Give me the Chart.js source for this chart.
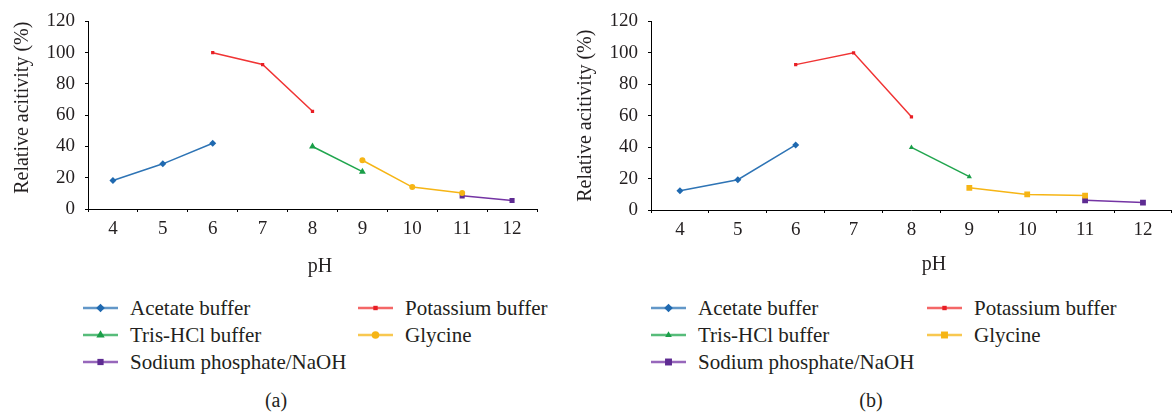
<!DOCTYPE html>
<html>
<head>
<meta charset="utf-8">
<script src="https://cdn.jsdelivr.net/npm/chart.js@4.4.1/dist/chart.umd.min.js"></script>
<style>
html,body{margin:0;padding:0;background:#fff;}
body{width:1174px;height:415px;overflow:hidden;position:relative;font-family:"Liberation Serif","Times New Roman",serif;color:#231f20;}
canvas{position:absolute;top:0;}
#ca{left:0;}
#cb{left:570px;}
.item{position:absolute;display:flex;align-items:center;white-space:nowrap;height:24px;line-height:24px;font-size:21px;}
.item svg{margin-right:12px;flex:none;}
.cap{position:absolute;font-size:20px;top:389px;transform:translateX(-50%);}
</style>
</head>
<body>
<canvas id="ca" width="570" height="285"></canvas>
<canvas id="cb" width="606" height="285"></canvas>
<div id="legA"></div>
<div id="legB"></div>
<div class="cap" style="left:276px">(a)</div>
<div class="cap" style="left:871px">(b)</div>
<script>
// ---- data ----
const phLabels = ['4','5','6','7','8','9','10','11','12'];
const seriesNames = ['Acetate buffer','Potassium buffer','Tris-HCl buffer','Glycine','Sodium phosphate/NaOH'];

// panel (a)
const acetateA   = [18.2, 28.9, 42.1, null, null, null, null, null, null];
const potassiumA = [null, null, 100, 92.4, 62.5, null, null, null, null];
const trisA      = [null, null, null, null, 40.0, 23.9, null, null, null];
const glycineA   = [null, null, null, null, null, 31.2, 14.0, 10.3, null];
const sodiumA    = [null, null, null, null, null, null, null, 8.4, 5.4];

// panel (b)
const acetateB   = [12.2, 19.3, 41.4, null, null, null, null, null, null];
const potassiumB = [null, null, 92.5, 100, 59.3, null, null, null, null];
const trisB      = [null, null, null, null, 39.8, 21.2, null, null, null];
const glycineB   = [null, null, null, null, null, 14.1, 9.9, 9.2, null];
const sodiumB    = [null, null, null, null, null, null, null, 6.2, 4.7];

const yTicks = [0, 20, 40, 60, 80, 100, 120];

// ---- styles ----
const lineColors = ['#2e74b5', '#f03434', '#1fa54d', '#f6b515', '#7434a4'];
const markColors = ['#1f69b0', '#e81e24', '#1a9e48', '#f6b515', '#5e2b92'];
const stylesA = [['rectRot',3.5],['rect',2.3],['triangle',4],['circle',3],['rect',3.6]];
const stylesB = [['rectRot',3.5],['rect',2.3],['triangle',3],['rect',4.1],['rect',4.1]];

const FONT = 'Liberation Serif';
const TXT = '#231f20';

function makeChart(id, dataArrs, styles, opt) {
  const datasets = dataArrs.map((d, i) => ({
    label: seriesNames[i],
    data: d,
    borderColor: lineColors[i],
    backgroundColor: markColors[i],
    borderWidth: 1.5,
    pointStyle: styles[i][0],
    pointRadius: styles[i][1],
    pointBorderWidth: 0,
    pointBackgroundColor: markColors[i],
    pointBorderColor: markColors[i],
    tension: 0,
    spanGaps: false
  }));
  return new Chart(document.getElementById(id), {
    type: 'line',
    data: { labels: phLabels, datasets },
    options: {
      responsive: false,
      animation: false,
      devicePixelRatio: 1,
      layout: { padding: opt.padding },
      plugins: { legend: { display: false }, tooltip: { enabled: false } },
      scales: {
        x: {
          type: 'category',
          offset: true,
          grid: { display: true, drawOnChartArea: false, drawTicks: true, tickLength: 3, offset: true, color: '#000', lineWidth: 1 },
          border: { display: true, color: '#000', width: 1 },
          ticks: { color: TXT, font: { family: FONT, size: 19 }, padding: 6, maxRotation: 0, autoSkip: false },
          title: { display: true, text: opt.xTitle, color: TXT, font: { family: FONT, size: 20 }, padding: { top: 0, bottom: opt.xTitlePad } },
          afterFit(s) { s.height = opt.xHeight; }
        },
        y: {
          min: 0, max: 120,
          afterBuildTicks(s) { s.ticks = yTicks.map(v => ({ value: v })); },
          grid: { display: true, drawOnChartArea: false, drawTicks: true, tickLength: 3, color: '#000', lineWidth: 1 },
          border: { display: true, color: '#000', width: 1 },
          ticks: { color: TXT, font: { family: FONT, size: 19 }, padding: 10 },
          title: { display: true, text: opt.yTitle, color: TXT, font: { family: FONT, size: 20 }, padding: { top: 4, bottom: 0 } },
          afterFit(s) { s.width = 81; }
        }
      }
    }
  });
}

makeChart('ca', [acetateA, potassiumA, trisA, glycineA, sodiumA], stylesA, {
  padding: { left: 7, top: 18, right: 33, bottom: 0 },
  xHeight: 76, xTitle: '   pH', xTitlePad: 6, yTitle: '   Relative acitivity (%)'
});
makeChart('cb', [acetateB, potassiumB, trisB, glycineB, sodiumB], stylesB, {
  padding: { left: 0, top: 20, right: 0, bottom: 0 },
  xHeight: 75, xTitle: '         pH', xTitlePad: 8, yTitle: 'Relative acitivity (%)'
});

// ---- HTML legends ----
function markerSvg(style, r, color) {
  const cx = 17.5, cy = 6;
  r = r + 0.8;
  if (style === 'rectRot') return `<polygon points="${cx},${cy-r} ${cx+r},${cy} ${cx},${cy+r} ${cx-r},${cy}" fill="${color}"/>`;
  if (style === 'triangle') return `<polygon points="${cx},${cy-r} ${cx+r*0.87},${cy+r*0.5} ${cx-r*0.87},${cy+r*0.5}" fill="${color}"/>`;
  if (style === 'circle') return `<circle cx="${cx}" cy="${cy}" r="${r}" fill="${color}"/>`;
  const s = r * Math.SQRT1_2;
  return `<rect x="${cx-s}" y="${cy-s}" width="${2*s}" height="${2*s}" fill="${color}"/>`;
}
function buildLegend(elId, styles, x1, x2) {
  const rows = [307.5, 334.5, 361.5];
  const pos = [[x1,0],[x2,0],[x1,1],[x2,1],[x1,2]];
  const el = document.getElementById(elId);
  seriesNames.forEach((name, i) => {
    const d = document.createElement('div');
    d.className = 'item';
    d.style.left = pos[i][0] + 'px';
    d.style.top = (rows[pos[i][1]] - 12) + 'px';
    d.innerHTML = `<svg width="35" height="12" viewBox="0 0 35 12"><line x1="0" y1="6" x2="35" y2="6" stroke="${lineColors[i]}" stroke-opacity="0.75" stroke-width="2.4"/>${markerSvg(styles[i][0], styles[i][1], markColors[i])}</svg><span>${name}</span>`;
    el.appendChild(d);
  });
}
buildLegend('legA', stylesA, 83, 358);
buildLegend('legB', stylesB, 651, 927);
</script>
</body>
</html>
